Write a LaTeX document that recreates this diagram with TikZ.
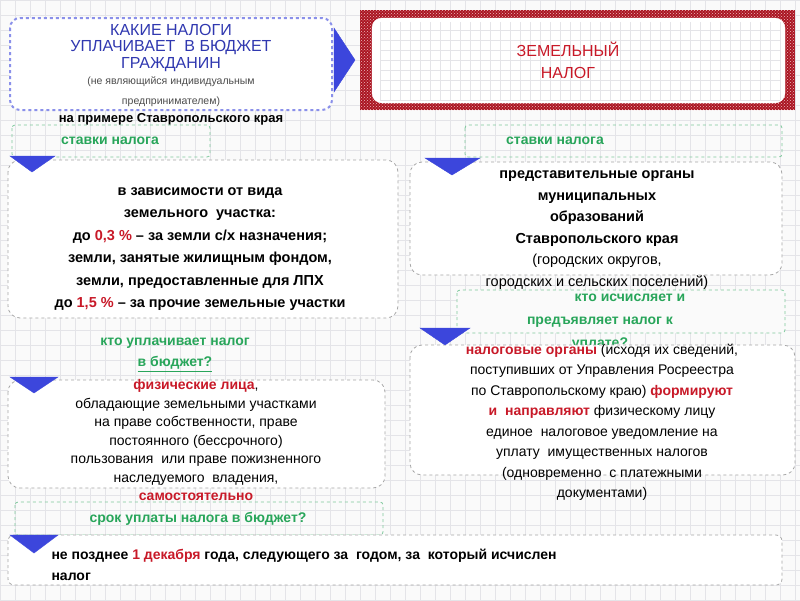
\documentclass[tikz,border=0pt]{standalone}
\usepackage{fontspec}
\setmainfont{Liberation Sans}
\usetikzlibrary{patterns}
\definecolor{gr}{RGB}{40,165,90}
\definecolor{rd}{RGB}{200,25,40}
\definecolor{bl}{RGB}{60,70,220}
\definecolor{gridc}{RGB}{228,228,232}
\tikzset{
 cbox/.style={draw=gray!70,dashed,rounded corners=12pt,fill=white,line width=0.8pt},
 gbox/.style={draw=gr!60,dashed,rounded corners=3pt,line width=0.8pt},
 tri/.style={fill=bl,draw=bl},
 txt/.style={font=\bfseries\fontsize{14}{21}\selectfont,align=center},
 ntx/.style={font=\fontsize{14}{20}\selectfont,align=center},
 gtx/.style={font=\bfseries\fontsize{14}{21}\selectfont,text=gr,align=center},
}
\begin{document}
\begin{tikzpicture}[x=1pt,y=-1pt]
\useasboundingbox (0,0) rectangle (800,600);
\fill[white!96!gray] (0,0) rectangle (800,600);
\draw[gridc,step=15pt] (0,0) grid (800,600);
% top left
\draw[bl!60,dashed,line width=2pt,rounded corners=10pt,fill=white] (10,18) rectangle (332,110);
\fill[tri] (334,28) -- (355,60) -- (334,92) -- cycle;
\node[font=\fontsize{16}{16.5}\selectfont,text=bl!80!black,align=center] (t1) at (171,48) {КАКИЕ НАЛОГИ\\УПЛАЧИВАЕТ\ \ В БЮДЖЕТ\\ГРАЖДАНИН};
\node[font=\fontsize{10.5}{20}\selectfont,text=black!70,align=center] (t2) at (171,92) {(не являющийся индивидуальным\\предпринимателем)};
% red
\fill[rd!85!black] (360,10) rectangle (795,110);
\fill[pattern=crosshatch dots,pattern color=white!70!rd] (360,10) rectangle (795,110);
\draw[fill=white,rounded corners=10pt,draw=white] (372,18) rectangle (785,103);
\draw[gridc,step=10pt] (380,22) grid (780,100);
\node[font=\fontsize{16}{22}\selectfont,text=rd,align=center] (zn) at (568,60) {ЗЕМЕЛЬНЫЙ\\НАЛОГ};
\node[font=\bfseries\fontsize{13}{13}\selectfont] (ex) at (171,119) {на примере Ставропольского края};
% stavki
\draw[gbox] (12,125) rectangle (210,157);
\node[gtx] (s1) at (110,141) {ставки налога};
\draw[gbox] (465,125) rectangle (782,157);
\node[gtx] (s2) at (555,141) {ставки налога};
% left content
\draw[cbox] (8,160) rectangle (398,318);
\fill[tri] (10,156) -- (55,156) -- (32,172) -- cycle;
\node[txt,font=\bfseries\fontsize{14.5}{22.5}\selectfont] (c1) at (200,249) {в зависимости от вида\\земельного\ \ участка:\\до \textcolor{rd}{0,3 \%} – за земли с/х назначения;\\земли, занятые жилищным фондом,\\земли, предоставленные для ЛПХ\\до \textcolor{rd}{1,5 \%} – за прочие земельные участки};
% right content
\draw[cbox] (410,162) rectangle (782,275);
\fill[tri] (425,158) -- (480,158) -- (452,175) -- cycle;
\node[txt,font=\bfseries\fontsize{14.5}{21.5}\selectfont] (c2) at (597,230) {представительные органы\\муниципальных\\образований\\Ставропольского края\\{\mdseries (городских округов,}\\{\mdseries городских и сельских поселений)}};
% kto ischislyaet
\draw[gbox,fill=white!96!gray] (457,290) rectangle (785,333);
\node[gtx,font=\bfseries\fontsize{14}{23}\selectfont] (k1) at (600,322) {\hspace*{60pt}кто исчисляет и\\предъявляет налог к\\уплате?};
\draw[cbox] (410,345) rectangle (795,475);
\fill[tri] (420,328) -- (470,328) -- (445,345) -- cycle;
\node[ntx,font=\fontsize{14}{20.5}\selectfont] (c3) at (602,422) {\textcolor{rd}{\bfseries налоговые органы} (исходя их сведений,\\поступивших от Управления Росреестра\\по Ставропольскому краю) \textcolor{rd}{\bfseries формируют}\\\textcolor{rd}{\bfseries и\ \ направляют} физическому лицу\\единое\ \ налоговое уведомление на\\уплату\ \ имущественных налогов\\(одновременно\ \ с платежными\\документами)};
% kto uplachivaet
\node[gtx] (k2) at (175,355) {кто уплачивает налог\\\underline{в бюджет?}};
\draw[cbox] (8,380) rectangle (385,488);
\fill[tri] (10,377) -- (58,377) -- (34,393) -- cycle;
\node[ntx,font=\fontsize{14}{18.5}\selectfont] (c4) at (196,440) {\textcolor{rd}{\bfseries физические лица},\\обладающие земельными участками\\на праве собственности, праве\\постоянного (бессрочного)\\пользования\ \ или праве пожизненного\\наследуемого\ \ владения,\\\textcolor{rd}{\bfseries самостоятельно}};
% srok
\draw[gbox] (15,502) rectangle (383,535);
\node[gtx] (k3) at (198,519) {срок уплаты налога в бюджет?};
\draw[cbox,rounded corners=6pt] (8,535) rectangle (782,585);
\fill[tri] (10,535) -- (58,535) -- (34,553) -- cycle;
\node[txt,align=left,anchor=north west,font=\bfseries\fontsize{14}{21}\selectfont] (c5) at (48,546) {не позднее \textcolor{rd}{1 декабря} года, следующего за\ \ годом, за\ \ который исчислен\\налог};
\end{tikzpicture}
\end{document}
